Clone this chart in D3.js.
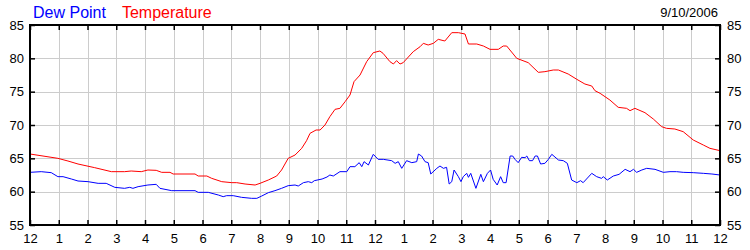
<!DOCTYPE html>
<html>
<head>
<meta charset="utf-8">
<script src="https://cdn.jsdelivr.net/npm/d3@7"></script>
<style>
  html, body { margin: 0; padding: 0; background: #fff; }
  svg { display: block; font-family: "Liberation Sans", Arial, sans-serif; }
</style>
</head>
<body>
<svg id="chart" width="750" height="250"></svg>
<script>
// ---- data (hour of day, 0 = midnight) ----
const seriesNames = ["Dew Point", "Temperature"];
const dateLabel = "9/10/2006";
const hourTicks = d3.range(0, 25);
const hourLabels = ["12","1","2","3","4","5","6","7","8","9","10","11",
                    "12","1","2","3","4","5","6","7","8","9","10","11","12"];
const yTicks = [55, 60, 65, 70, 75, 80, 85];

const tempHours = [0,0.97,1.32,1.67,2.25,2.83,3.29,3.52,3.87,4.10,4.39,4.58,4.87,4.98,5.74,5.85,6.15,6.32,6.67,7.02,7.19,7.48,7.83,8.00,8.29,8.58,8.75,8.98,9.22,9.45,9.62,9.74,9.95,10.09,10.26,10.43,10.61,10.78,10.96,11.13,11.27,11.48,11.71,11.94,12.17,12.28,12.52,12.64,12.75,12.87,12.98,13.33,13.57,13.68,13.85,14.03,14.20,14.43,14.67,14.90,15.13,15.25,15.54,15.77,16.00,16.29,16.46,16.58,16.93,17.33,17.68,17.91,18.20,18.38,18.72,19.02,19.30,19.54,19.65,19.83,20.17,20.46,20.75,20.87,21.04,21.39,21.68,21.97,22.14,22.43,22.72,23.07,23.42,23.65,24.00];
const tempValues = [65.65,65.0,64.6,64.15,63.6,63.0,63.0,63.1,63.0,63.25,63.2,62.9,62.9,62.65,62.65,62.35,62.35,62.0,61.5,61.35,61.35,61.15,61.0,61.25,61.75,62.35,63.25,65.0,65.5,66.5,67.65,68.75,69.25,69.25,70.0,71.25,72.35,72.5,73.5,74.5,76.5,77.5,79.5,80.85,81.1,80.75,79.5,79.15,79.65,79.15,79.35,81.0,81.75,82.25,82.0,82.25,82.85,82.6,83.85,83.85,83.65,82.15,82.15,81.85,81.35,81.35,81.85,81.85,80.0,79.35,77.9,78.0,78.25,78.25,77.65,76.85,76.15,75.85,75.15,74.75,73.75,72.65,72.5,72.15,72.5,71.85,70.9,69.75,69.5,69.4,69.0,67.75,67.0,66.5,66.15];

const dewHours = [0,0.39,0.74,0.97,1.15,1.44,1.67,2.02,2.37,2.65,2.95,3.29,3.47,3.58,3.76,4.10,4.39,4.52,4.93,5.74,5.85,6.20,6.55,6.72,6.84,7.07,7.36,7.71,7.89,8.06,8.29,8.52,8.75,8.98,9.22,9.33,9.51,9.68,9.80,9.89,10.16,10.33,10.43,10.55,10.78,11.02,11.13,11.30,11.45,11.54,11.62,11.77,11.94,12.11,12.29,12.58,12.70,12.81,12.93,13.10,13.28,13.45,13.51,13.62,13.74,13.85,13.94,14.15,14.26,14.38,14.49,14.58,14.67,14.75,14.90,14.99,15.07,15.19,15.25,15.33,15.51,15.68,15.77,15.91,16.02,16.11,16.25,16.37,16.46,16.56,16.70,16.79,16.87,16.98,17.10,17.22,17.28,17.37,17.48,17.57,17.65,17.76,17.91,18.03,18.15,18.38,18.55,18.69,18.84,19.02,19.15,19.24,19.54,19.71,19.88,19.94,20.08,20.29,20.49,20.70,20.87,20.99,21.10,21.28,21.45,21.74,22.03,22.26,22.49,22.72,23.07,23.42,23.72,24.0];
const dewValues = [62.9,63.0,62.85,62.25,62.25,61.9,61.6,61.5,61.25,61.25,60.65,60.5,60.65,60.5,60.75,61.0,61.1,60.5,60.15,60.15,59.9,59.9,59.5,59.25,59.4,59.4,59.15,59.0,59.0,59.35,59.85,60.15,60.5,60.9,61.0,60.85,61.35,61.5,61.35,61.65,61.9,62.2,62.5,62.35,63.0,63.0,63.75,63.75,64.35,63.75,64.5,64.0,65.6,64.85,64.85,64.65,64.25,64.5,63.5,64.65,64.35,64.5,65.65,65.35,64.5,64.35,62.65,63.5,63.85,63.5,63.65,61.15,61.5,63.25,62.25,61.5,62.25,62.75,62.15,62.75,60.5,62.6,61.5,62.75,63.25,61.85,61.0,62.25,61.35,61.35,65.35,65.35,64.85,64.35,65.15,65.1,65.35,64.65,64.65,65.35,65.35,64.15,64.25,64.85,65.6,64.75,64.65,64.25,61.75,61.35,61.65,61.35,62.75,62.25,62.0,62.25,61.75,62.35,62.6,63.35,63.0,63.35,62.9,63.25,63.5,63.35,62.9,63.0,63.0,62.9,62.85,62.75,62.65,62.5];

const seriesColors = ["#0000ff", "#ff0000"];

// ---- layout ----
const svg = d3.select("#chart");
const L = 30, R = 720, T = 25, B = 225;
const x = d3.scaleLinear().domain([0, 24]).range([L, R]);
const y = d3.scaleLinear().domain([55, 85]).range([B, T]);

// grid
const grid = svg.append("g").attr("stroke", "#cccccc").attr("stroke-width", 1);
grid.selectAll("line.v").data(hourTicks.slice(1, -1)).join("line")
  .attr("x1", d => Math.round(x(d)) + 0.5).attr("x2", d => Math.round(x(d)) + 0.5)
  .attr("y1", T).attr("y2", B);
grid.selectAll("line.h").data(yTicks.slice(1, -1)).join("line")
  .attr("y1", d => Math.round(y(d)) + 0.5).attr("y2", d => Math.round(y(d)) + 0.5)
  .attr("x1", L).attr("x2", R);

// lines
const line = d3.line().x(d => x(d[0])).y(d => y(d[1]));
const dewData = dewHours.map((h, i) => [h, dewValues[i]]);
const tempData = tempHours.map((h, i) => [h, tempValues[i]]);
svg.append("path").datum(dewData).attr("d", line)
  .attr("fill", "none").attr("stroke", seriesColors[0]).attr("stroke-width", 1);
svg.append("path").datum(tempData).attr("d", line)
  .attr("fill", "none").attr("stroke", seriesColors[1]).attr("stroke-width", 1);

// axes
function styleAxis(g) {
  g.select(".domain").remove();
  g.selectAll(".tick line").attr("stroke", "#000").attr("stroke-width", 1.5);
  g.selectAll(".tick text").attr("fill", "#000").attr("font-size", 13)
    .attr("font-family", "'Liberation Sans', Arial, sans-serif");
}
svg.append("g").attr("transform", `translate(0,${B})`)
  .call(d3.axisBottom(x).tickValues(hourTicks).tickSize(-5).tickPadding(9)
    .tickFormat((d, i) => hourLabels[i]))
  .call(styleAxis);
svg.append("g").attr("transform", `translate(0,${T})`)
  .call(d3.axisTop(x).tickValues(hourTicks).tickSize(-5).tickFormat(""))
  .call(styleAxis);
svg.append("g").attr("transform", `translate(${L},0)`)
  .call(d3.axisLeft(y).tickValues(yTicks).tickSize(-5).tickPadding(6))
  .call(styleAxis);
svg.append("g").attr("transform", `translate(${R},0)`)
  .call(d3.axisRight(y).tickValues(yTicks).tickSize(-5).tickPadding(7))
  .call(styleAxis);

// frame
svg.append("rect").attr("x", L).attr("y", T).attr("width", R - L).attr("height", B - T)
  .attr("fill", "none").attr("stroke", "#000").attr("stroke-width", 2);

// legend / title
const leg = svg.append("text").attr("x", 33).attr("y", 18).attr("font-size", 16);
leg.append("tspan").attr("fill", seriesColors[0]).text(seriesNames[0]);
leg.append("tspan").attr("fill", seriesColors[1]).attr("dx", 16).text(seriesNames[1]);
svg.append("text").attr("x", 718).attr("y", 17).attr("text-anchor", "end")
  .attr("font-size", 13).attr("fill", "#000").text(dateLabel);
</script>
</body>
</html>
